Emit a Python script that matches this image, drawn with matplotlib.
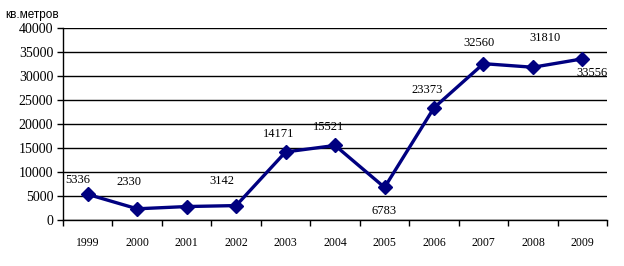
import matplotlib
matplotlib.use("Agg")
import matplotlib.pyplot as plt
import numpy as np

# data
years = ["1999", "2000", "2001", "2002", "2003", "2004", "2005", "2006", "2007", "2008", "2009"]
values = [5336, 2330, 2800, 3000, 14171, 15521, 6783, 23373, 32560, 31810, 33556]
labels = ["5336", "2330", "", "3142", "14171", "15521", "6783", "23373", "32560", "31810", "33556"]
yticks = [0, 5000, 10000, 15000, 20000, 25000, 30000, 35000, 40000]

# label offsets in points (dx, dy)
offs = [(-7, 10), (-6, 19), (0, 0), (-10, 18), (-5, 13), (-5, 13), (0, -17), (-5, 13), (-3, 15), (9, 21), (7, -10)]

plt.rcParams["font.family"] = ["Liberation Serif", "DejaVu Serif"]

fig = plt.figure(figsize=(6.24, 2.66), dpi=100)
ax = fig.add_axes([0.101, 0.173, 0.872, 0.722])

x = np.arange(len(years))
ax.plot(x, values, color="#000080", lw=2.4, marker="D", ms=7.5, zorder=3)

for xi, v, lab, (dx, dy) in zip(x, values, labels, offs):
    if lab:
        ax.annotate(lab, (xi, v), xytext=(dx, dy), textcoords="offset points",
                    ha="center", va="center", fontsize=9)

ax.set_xlim(-0.5, len(years) - 0.5)
ax.set_ylim(0, 40000)
ax.set_yticks(yticks)
ax.set_yticklabels([str(t) for t in yticks], fontsize=10)
ax.set_xticks(x)
ax.set_xticklabels(years, fontsize=8.5)
ax.set_xticks(np.arange(-0.5, len(years)), minor=True)
ax.tick_params(axis="x", which="major", length=0, pad=12)
ax.tick_params(axis="x", which="minor", length=4, width=1, color="black")
ax.tick_params(axis="y", length=4, width=1, pad=3)

ax.yaxis.grid(True, color="black", lw=1)
ax.set_axisbelow(True)
for s in ["top", "right"]:
    ax.spines[s].set_visible(False)
ax.spines["left"].set_linewidth(1)
ax.spines["bottom"].set_linewidth(1)

fig.text(0.008, 0.945, "кв.метров", fontsize=8.5, family="Liberation Sans", ha="left", va="center")

fig.savefig("out.png", dpi=100)
